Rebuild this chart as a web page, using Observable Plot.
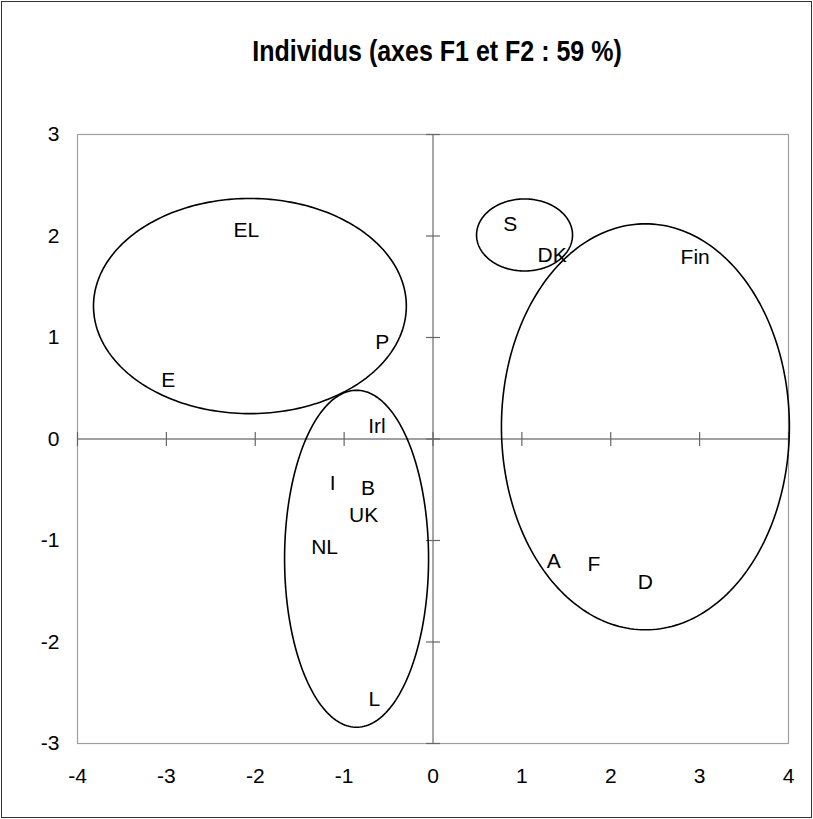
<!DOCTYPE html>
<html><head><meta charset="utf-8">
<script src="https://cdn.jsdelivr.net/npm/d3@7"></script>
<script src="https://cdn.jsdelivr.net/npm/@observablehq/plot@0.6"></script>
<style>
html,body{margin:0;padding:0;background:#fff;}
#chart{position:relative;width:813px;height:819px;overflow:hidden;background:#fff}
#title{position:absolute;left:0;width:874px;top:37px;text-align:center;font:bold 25px "Liberation Sans",Arial,sans-serif;color:#000;z-index:2;transform:scaleY(1.15);transform-origin:center}
#plot{position:absolute;left:0;top:0}
#border{position:absolute;left:1px;top:1px;right:1px;bottom:1px;border:1.5px solid #333;z-index:3;pointer-events:none}
</style></head><body>
<div id="chart"><div id="plot"></div><div id="title">Individus (axes F1 et F2 : 59 %)</div><div id="border"></div></div>
<script>
// individuals (labels and F1/F2 coordinates)
const labels = ["EL","P","E","Irl","I","B","UK","NL","L","S","DK","Fin","A","F","D"];
const f1 = [-2.10,-0.57,-2.98,-0.63,-1.13,-0.73,-0.78,-1.22,-0.66,0.87,1.34,2.95,1.36,1.81,2.39];
const f2 = [2.06,0.95,0.58,0.13,-0.44,-0.49,-0.75,-1.07,-2.56,2.12,1.81,1.79,-1.20,-1.23,-1.41];
// group ellipses (center and radii, in axis units)
const groupCx = [-2.06,-0.86,1.03,2.39];
const groupCy = [1.31,-1.18,2.01,0.12];
const groupRx = [1.76,0.81,0.54,1.62];
const groupRy = [1.06,1.66,0.355,2.0];
// tick values
const xTicks = [-4,-3,-2,-1,0,1,2,3,4];
const yTicks = [-3,-2,-1,0,1,2,3];

const pts = labels.map((l,i)=>({label:l, x:f1[i], y:f2[i]}));
const ell = [];
groupCx.forEach((cx,g)=>{
  for(let k=0;k<240;k++){
    const t = 2*Math.PI*k/240;
    ell.push({g, x: cx + groupRx[g]*Math.cos(t), y: groupCy[g] + groupRy[g]*Math.sin(t)});
  }
});
const vTick = {draw(ctx){ctx.moveTo(0,-7);ctx.lineTo(0,7);}};
const hTick = {draw(ctx){ctx.moveTo(-7,0);ctx.lineTo(7,0);}};

const plot = Plot.plot({
  width:813, height:819,
  marginLeft:77, marginRight:25, marginTop:134, marginBottom:76,
  x:{domain:[-4,4]},
  y:{domain:[-3,3]},
  style:{fontFamily:'"Liberation Sans", Arial, sans-serif', fontSize:"21px", color:"#000", background:"#fff"},
  marks:[
    Plot.frame({stroke:"#a0a0a0", strokeWidth:1.2}),
    Plot.ruleX([0],{stroke:"#808080", strokeWidth:1.4}),
    Plot.ruleY([0],{stroke:"#808080", strokeWidth:1.4}),
    Plot.dot(xTicks,{x:d=>d, y:()=>0, symbol:vTick, fill:"none", stroke:"#666", strokeWidth:1.2}),
    Plot.dot(yTicks,{x:()=>0, y:d=>d, symbol:hTick, fill:"none", stroke:"#666", strokeWidth:1.2}),
    Plot.axisX(xTicks,{tickSize:0, tickPadding:25, tickFormat:d=>String(d), label:null, fontSize:21}),
    Plot.axisY(yTicks,{tickSize:0, tickPadding:18, tickFormat:d=>String(d), label:null, fontSize:21}),
    Plot.line(ell,{x:"x", y:"y", z:"g", stroke:"#000", strokeWidth:1.6, curve:"linear-closed"}),
    Plot.text(pts,{x:"x", y:"y", text:"label", fontSize:21, fill:"#000"})
  ]
});
document.getElementById("plot").appendChild(plot);
</script>
</body></html>
